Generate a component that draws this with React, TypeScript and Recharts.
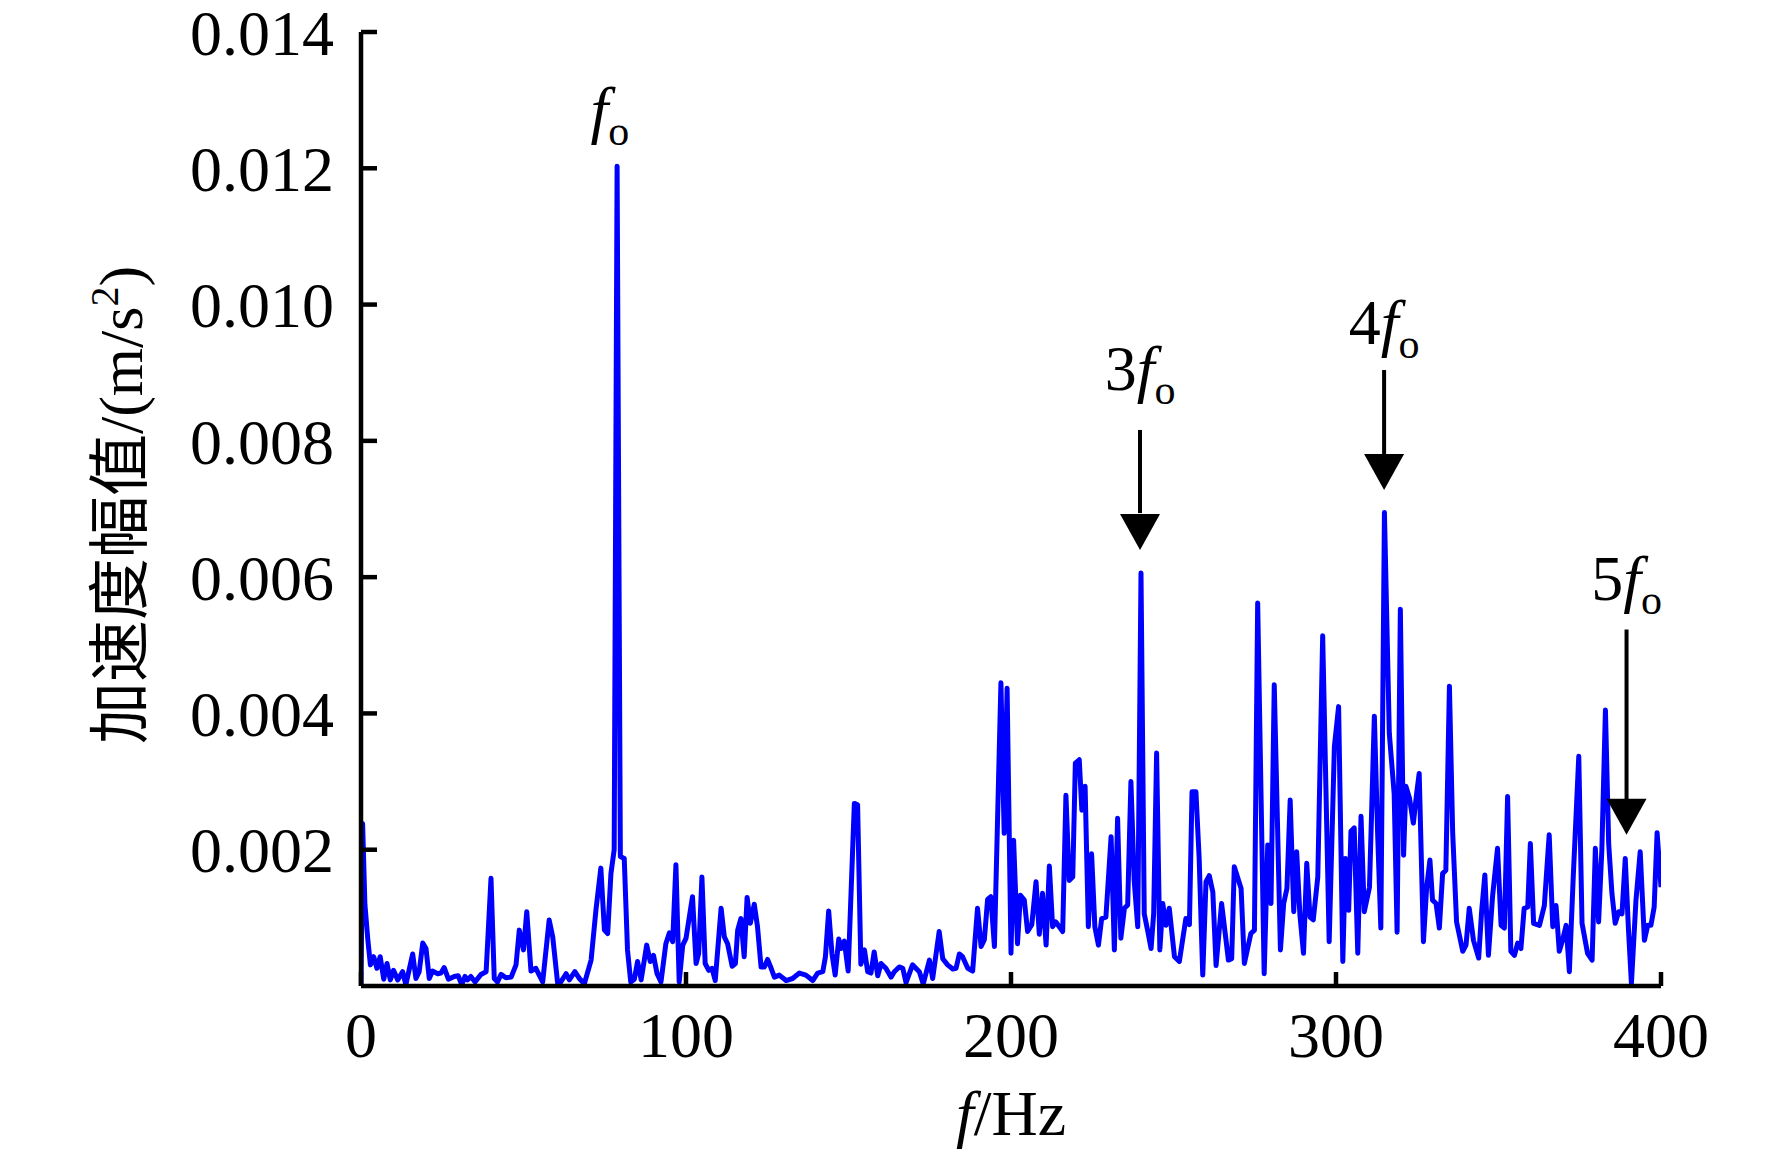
import React from 'react';
import { LineChart, Line, XAxis, YAxis, ReferenceDot, ReferenceLine } from 'recharts';

// Frequency (Hz) of each spectrum sample
const freqHz = [
  0, 0.5, 1.2, 2.1, 2.9, 3.9, 4.9, 5.9, 7, 8,
  9, 10, 11.3, 12.8, 13.8, 15.9, 16.9, 17.9, 19, 20,
  21, 22, 23.6, 24.6, 25.6, 26.9, 28.7, 29.9, 31, 32,
  32.8, 33.8, 35.1, 36.9, 38.5, 40, 41, 42, 43.1, 44.6,
  46.2, 47.7, 48.7, 50, 51, 52.3, 53.8, 55.9, 57.9, 59,
  60.5, 61.5, 63.1, 64.1, 65.8, 67.2, 68.7, 70.8, 72.3, 73.8,
  74.9, 75.9, 76.9, 77.9, 78.8, 79.8, 81, 82, 83, 84.1,
  85.1, 86.2, 87.9, 89, 90, 91.1, 92.3, 93.8, 94.9, 95.9,
  96.9, 97.9, 99, 100, 102, 103.1, 103.9, 104.9, 105.9, 107,
  108, 109, 110.8, 111.8, 112.8, 114.2, 115.2, 115.9, 116.9, 117.9,
  118.8, 119.8, 121, 122, 123.1, 124.1, 125.1, 126.2, 127.2, 128.7,
  130.8, 132.8, 134.9, 136.9, 139, 140.5, 142.1, 142.9, 143.9, 144.9,
  145.9, 147, 147.7, 148.7, 149.9, 151.8, 152.8, 153.8, 154.9, 155.9,
  156.9, 157.9, 159, 160, 161.5, 163.1, 164.1, 165.6, 166.7, 167.7,
  169.7, 171.8, 173, 174.9, 175.9, 177.9, 179, 180.5, 182.1, 183.1,
  184.1, 185.1, 186.7, 188.2, 189.7, 190.8, 191.8, 192.8, 193.8, 194.9,
  196.9, 197.9, 198.8, 200, 200.8, 202, 202.9, 204.1, 205.1, 206.4,
  207.7, 208.7, 209.7, 210.8, 211.8, 212.8, 213.8, 215.9, 216.9, 217.9,
  219, 219.8, 221, 221.8, 222.8, 223.8, 224.8, 225.8, 226.9, 227.9,
  229.2, 230.8, 231.8, 232.8, 233.8, 234.9, 235.9, 236.9, 237.9, 239,
  240, 241, 242.1, 243.1, 243.9, 244.8, 245.8, 246.7, 247.7, 248.7,
  250.3, 251.8, 253.8, 254.9, 255.7, 256.9, 257.9, 259, 260, 261,
  262.1, 263.1, 264.8, 266.9, 267.9, 268.7, 270.8, 271.8, 273.8, 274.9,
  275.9, 277.9, 279, 280, 281, 282.9, 283.9, 284.9, 285.9, 287,
  287.9, 288.9, 290, 291, 292, 293, 294.4, 295.9, 297.9, 299.5,
  300.8, 302.1, 302.9, 303.9, 304.6, 305.6, 306.7, 307.7, 308.7, 310.3,
  311.8, 312.8, 313.8, 314.9, 316.4, 317.9, 318.8, 319.8, 320.8, 321.5,
  322.6, 323.8, 324.8, 325.6, 326.9, 327.9, 328.9, 329.7, 330.8, 331.8,
  332.8, 333.8, 334.9, 335.9, 337.1, 339, 340, 341, 342.3, 343.9,
  344.8, 345.8, 346.9, 348.2, 349.7, 350.8, 351.8, 352.8, 353.8, 354.9,
  355.9, 356.9, 357.9, 359, 359.8, 360.8, 362.6, 364.1, 365.6, 366.7,
  367.7, 368.7, 369.7, 370.8, 371.8, 373, 374.7, 375.7, 377.4, 378.8,
  379.8, 380.8, 381.8, 382.9, 383.9, 384.9, 385.9, 387, 388, 389,
  390, 390.9, 392.3, 393.6, 394.9, 395.9, 396.9, 397.9, 398.8, 400,
];

// Acceleration amplitude (m/s^2) at each frequency
const amplitude = [
  0, 0.00238, 0.0012, 0.00068, 0.00031, 0.00043, 0.00026, 0.00043, 0.0001, 0.00033,
  0.00009, 0.00023, 0.00009, 0.00021, 0.00002, 0.00047, 0.00011, 0.00021, 0.00063, 0.00055,
  0.00011, 0.00022, 0.00018, 0.00019, 0.00027, 0.0001, 0.00014, 0.00015, 0.00002, 0.00014,
  0.00009, 0.00014, 0.00006, 0.00017, 0.00021, 0.00158, 0.00011, 0.00006, 0.00017, 0.00012,
  0.00013, 0.00031, 0.00082, 0.00053, 0.00109, 0.00022, 0.00026, 0.00006, 0.00097, 0.00072,
  0.00004, 0.00006, 0.00018, 0.00009, 0.00021, 0.00011, 0.00003, 0.00038, 0.00112, 0.00173,
  0.00082, 0.00077, 0.00165, 0.002, 0.01203, 0.0019, 0.00187, 0.00053, 0.00006, 0.0001,
  0.00036, 0.00009, 0.0006, 0.00036, 0.00045, 0.00018, 0.00006, 0.00062, 0.00078, 0.00065,
  0.00178, 0.00006, 0.0006, 0.0007, 0.00131, 0.00033, 0.00048, 0.0016, 0.00033, 0.00023,
  0.00026, 0.00008, 0.00114, 0.00072, 0.00062, 0.00029, 0.00033, 0.00082, 0.00099, 0.00043,
  0.0013, 0.00092, 0.0012, 0.00087, 0.00028, 0.00028, 0.00039, 0.00026, 0.00013, 0.00016,
  0.00008, 0.00011, 0.00019, 0.00016, 0.00008, 0.00019, 0.00021, 0.00043, 0.0011, 0.00048,
  0.00016, 0.00069, 0.00055, 0.00066, 0.00022, 0.00268, 0.00266, 0.00032, 0.00053, 0.00021,
  0.00019, 0.0005, 0.00015, 0.00033, 0.00026, 0.00013, 0.00021, 0.00028, 0.00026, 0.00005,
  0.00031, 0.00021, 0.00003, 0.00038, 0.00011, 0.0008, 0.0004, 0.00031, 0.00025, 0.00026,
  0.00047, 0.00043, 0.00026, 0.00022, 0.00114, 0.00058, 0.00068, 0.00127, 0.00131, 0.00058,
  0.00445, 0.00224, 0.00437, 0.00048, 0.00214, 0.00062, 0.00133, 0.00126, 0.0008, 0.0009,
  0.00153, 0.00076, 0.00136, 0.0006, 0.00176, 0.00087, 0.00094, 0.0008, 0.0028, 0.00155,
  0.0016, 0.00327, 0.00332, 0.00258, 0.00293, 0.00087, 0.00194, 0.00087, 0.0006, 0.00099,
  0.00101, 0.00219, 0.00053, 0.00246, 0.0007, 0.00114, 0.00119, 0.003, 0.00155, 0.00087,
  0.00606, 0.00106, 0.0008, 0.00055, 0.00106, 0.00342, 0.00053, 0.00121, 0.00089, 0.00114,
  0.00043, 0.00036, 0.00099, 0.0009, 0.00285, 0.00285, 0.00187, 0.00016, 0.00153, 0.00162,
  0.00138, 0.0003, 0.00121, 0.00038, 0.0004, 0.00175, 0.00143, 0.00033, 0.00077, 0.00082,
  0.00562, 0.00018, 0.00207, 0.00121, 0.00442, 0.00053, 0.00121, 0.00143, 0.00273, 0.00109,
  0.00197, 0.00104, 0.00048, 0.0018, 0.00101, 0.00097, 0.0016, 0.00514, 0.00065, 0.00351,
  0.0041, 0.00036, 0.00187, 0.00111, 0.00227, 0.00232, 0.00048, 0.00249, 0.00109, 0.00145,
  0.00396, 0.00225, 0.00085, 0.00695, 0.00371, 0.00282, 0.00079, 0.00553, 0.00192, 0.00293,
  0.00276, 0.00239, 0.00282, 0.00312, 0.00065, 0.00145, 0.00185, 0.00126, 0.00121, 0.00085,
  0.00165, 0.0017, 0.0044, 0.00225, 0.00094, 0.00051, 0.0006, 0.00114, 0.00067, 0.00041,
  0.00109, 0.00163, 0.00045, 0.00133, 0.00202, 0.00089, 0.00085, 0.00278, 0.00051, 0.00045,
  0.00063, 0.00055, 0.00114, 0.00116, 0.00209, 0.00092, 0.00089, 0.00118, 0.00222, 0.00087,
  0.00118, 0.00051, 0.00067, 0.00089, 0.00021, 0.0016, 0.00337, 0.00092, 0.00048, 0.00038,
  0.00202, 0.00094, 0.002, 0.00405, 0.00209, 0.00136, 0.00092, 0.00109, 0.00106, 0.00187,
  0.00082, 0.00004, 0.00126, 0.00197, 0.00067, 0.00089, 0.00089, 0.00116, 0.00225, 0.00145,
];

const xTicks = [0, 100, 200, 300, 400];
const yTicks = [0.002, 0.004, 0.006, 0.008, 0.01, 0.012, 0.014];

// Harmonic annotations
const harmonicPrefix = ['', '3', '4', '5'];
const harmonicTextFreq = [76.6, 239.7, 314.8, 389.4];
const harmonicTextLevel = [0.01254, 0.00875, 0.00942, 0.00567];
const arrowFreq = [239.7, 314.8, 389.4];
const arrowTail = [0.00816, 0.00904, 0.00523];
const arrowBase = [0.00694, 0.00779, 0.0027];
const arrowTip = [0.0064, 0.00728, 0.00222];

const data = freqHz.map((f, i) => ({ f, a: amplitude[i] }));

const SERIF = "'Liberation Serif', 'Times New Roman', serif";
const MIXED = "'Liberation Serif', 'Noto Sans CJK SC', serif";

const makeHarmonicText = (prefix: string) => (props: any) => (
  <text
    x={props.cx}
    y={props.cy}
    textAnchor="middle"
    fontFamily={SERIF}
    fontSize={64}
    fill="#000"
  >
    {prefix}
    <tspan fontStyle="italic">f</tspan>
    <tspan fontSize={42} dy={14}>o</tspan>
  </text>
);

const ArrowHead = (props: any) => {
  const { cx, cy } = props;
  return (
    <polygon
      points={`${cx - 20},${cy - 36} ${cx + 20},${cy - 36} ${cx},${cy}`}
      fill="#000"
    />
  );
};

const XTitle = (props: any) => {
  const vb = props.viewBox || { x: 0, y: 0, width: 0, height: 0 };
  return (
    <text
      x={vb.x + vb.width / 2}
      y={vb.y + 149}
      textAnchor="middle"
      fontFamily={SERIF}
      fontSize={64}
      fill="#000"
    >
      <tspan fontStyle="italic">f</tspan>/Hz
    </text>
  );
};

const YTitle = (props: any) => {
  const vb = props.viewBox || { x: 0, y: 0, width: 0, height: 0 };
  const cx = vb.x + 122;
  const cy = vb.y + vb.height / 2 - 4;
  return (
    <text
      x={cx}
      y={cy}
      textAnchor="middle"
      transform={`rotate(-90, ${cx}, ${cy})`}
      fontFamily={MIXED}
      fontSize={62}
      fill="#000"
    >
      加速度幅值/(m/s
      <tspan fontSize={40} dy={-24}>2</tspan>
      <tspan dy={24}>)</tspan>
    </text>
  );
};

export default function App() {
  return (
    <div
      style={{
        position: 'absolute',
        left: 0,
        top: 0,
        width: 1772,
        height: 1156,
        background: '#fff',
        fontFamily: SERIF,
      }}
    >
      <LineChart
        width={1772}
        height={1156}
        data={data}
        margin={{ top: 32, right: 111, bottom: 50, left: 20 }}
      >
        <XAxis
          type="number"
          dataKey="f"
          domain={[0, 400]}
          ticks={xTicks}
          interval={0}
          height={120}
          tickSize={-14}
          tickMargin={40}
          axisLine={{ stroke: '#000', strokeWidth: 4.5 }}
          tickLine={{ stroke: '#000', strokeWidth: 4.5 }}
          tick={{ fontSize: 64, fill: '#000', fontFamily: SERIF }}
          allowDataOverflow
          label={{ content: XTitle }}
        />
        <YAxis
          type="number"
          domain={[0, 0.014]}
          ticks={yTicks}
          interval={0}
          width={341}
          tickSize={-16}
          tickMargin={43}
          tickFormatter={(v: number) => v.toFixed(3)}
          axisLine={{ stroke: '#000', strokeWidth: 4.5 }}
          tickLine={{ stroke: '#000', strokeWidth: 4.5 }}
          tick={{ fontSize: 64, fill: '#000', fontFamily: SERIF }}
          allowDataOverflow
          label={{ content: YTitle }}
        />
        <Line
          type="linear"
          dataKey="a"
          stroke="#0000FF"
          strokeWidth={5}
          strokeLinejoin="round"
          dot={false}
          activeDot={false}
          isAnimationActive={false}
        />
        {arrowFreq.map((f, i) => (
          <ReferenceLine
            key={`shaft-${i}`}
            segment={[
              { x: f, y: arrowTail[i] },
              { x: f, y: arrowBase[i] },
            ]}
            stroke="#000"
            strokeWidth={4}
          />
        ))}
        {arrowFreq.map((f, i) => (
          <ReferenceDot
            key={`head-${i}`}
            x={f}
            y={arrowTip[i]}
            shape={ArrowHead}
          />
        ))}
        {harmonicTextFreq.map((f, i) => (
          <ReferenceDot
            key={`txt-${i}`}
            x={f}
            y={harmonicTextLevel[i]}
            shape={makeHarmonicText(harmonicPrefix[i])}
          />
        ))}
      </LineChart>
    </div>
  );
}
